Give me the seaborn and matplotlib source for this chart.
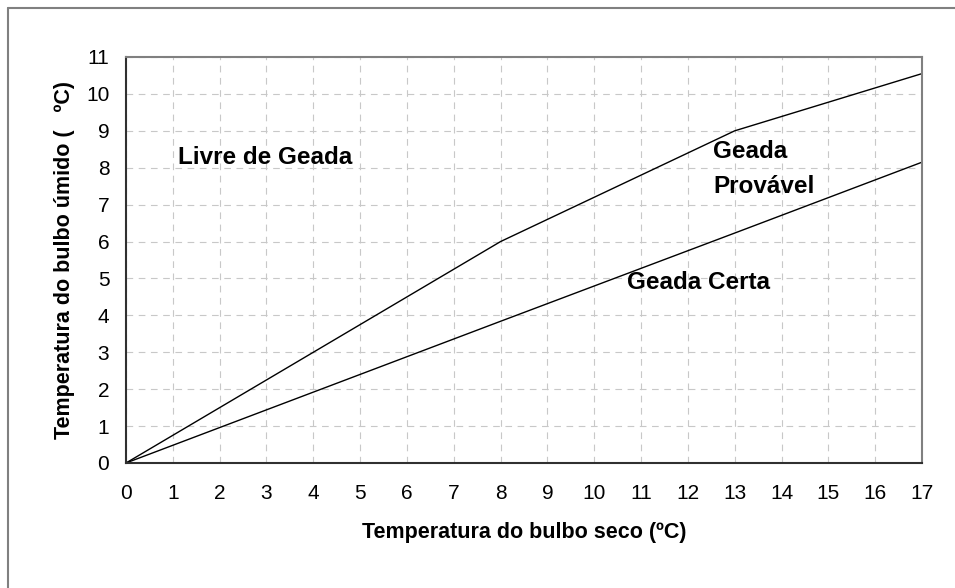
import matplotlib
matplotlib.use("Agg")
import matplotlib.pyplot as plt
import seaborn as sns
import pandas as pd
from matplotlib.lines import Line2D

# limite superior (livre de geada / geada provavel)
upper_x = [0, 8, 13, 17]
upper_y = [0, 6.0, 9.0, 10.55]

# limite inferior (geada provavel / geada certa)
lower_x = [0, 8, 13, 17]
lower_y = [0, 3.84, 6.23, 8.15]

x_ticks = list(range(0, 18))
y_ticks = list(range(0, 12))

df = pd.concat([
    pd.DataFrame({"x": upper_x, "y": upper_y, "curva": "superior"}),
    pd.DataFrame({"x": lower_x, "y": lower_y, "curva": "inferior"}),
])

sns.set_style("white")
plt.rcParams["font.family"] = ["Liberation Sans", "DejaVu Sans"]
plt.rcParams.update({
    "text.color": "black",
    "axes.labelcolor": "black",
    "xtick.color": "black",
    "ytick.color": "black",
})

fig = plt.figure(figsize=(9.55, 5.88), dpi=100)
ax = fig.add_axes([126 / 955, 1 - 463 / 588, (922 - 126) / 955, (463 - 57) / 588])

sns.lineplot(data=df, x="x", y="y", units="curva", estimator=None,
             color="black", linewidth=1.0, sort=False, ax=ax)

ax.set_xlim(0, 17)
ax.set_ylim(0, 11)
ax.set_xticks(x_ticks)
ax.set_yticks(y_ticks)
ax.grid(True, color="#c8c8c8", linestyle=(0, (6, 5)), linewidth=0.8)
ax.set_axisbelow(True)

for side in ["top", "right"]:
    ax.spines[side].set_color("#808080")
    ax.spines[side].set_linewidth(1.5)
for side in ["left", "bottom"]:
    ax.spines[side].set_color("#303030")
    ax.spines[side].set_linewidth(1.5)

ax.tick_params(axis="x", direction="inout", length=8, width=1.2, color="#303030",
               labelsize=15, pad=11)
ax.tick_params(axis="y", direction="out", length=6, width=1.2, color="#303030",
               labelsize=15, pad=6)

ax.set_xlabel("Temperatura do bulbo seco (ºC)", fontsize=15.5, fontweight="bold",
              labelpad=14)
ax.set_ylabel("Temperatura do bulbo úmido (   ºC)", fontsize=15.5, fontweight="bold",
              labelpad=8)

ax.text(1.11, 8.27, "Livre de Geada", fontsize=17.5, fontweight="bold", va="center")
ax.text(12.54, 8.43, "Geada", fontsize=17.5, fontweight="bold", va="center")
ax.text(12.54, 7.5, "Provável", fontsize=17.5, fontweight="bold", va="center")
ax.text(10.7, 4.9, "Geada Certa", fontsize=17.5, fontweight="bold", va="center")

# moldura externa
fig.add_artist(Line2D([8 / 955, 1], [1 - 8 / 588, 1 - 8 / 588],
                      transform=fig.transFigure, color="#808080", linewidth=1.5))
fig.add_artist(Line2D([8 / 955, 8 / 955], [0, 1 - 8 / 588],
                      transform=fig.transFigure, color="#808080", linewidth=1.5))

fig.savefig("out.png", dpi=100)
